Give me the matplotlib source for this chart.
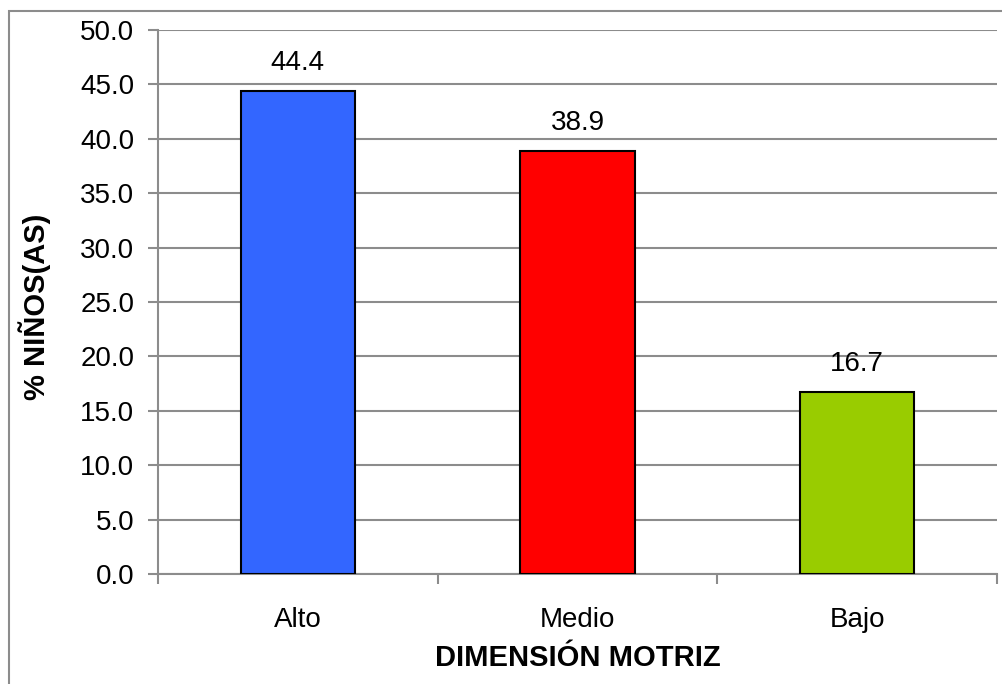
import matplotlib
matplotlib.use("Agg")
import matplotlib.pyplot as plt
from matplotlib.patches import Rectangle

categories = ["Alto", "Medio", "Bajo"]
values = [44.4, 38.9, 16.7]
bar_colors = ["#3366FF", "#FF0000", "#99CC00"]
y_ticks = [0, 5, 10, 15, 20, 25, 30, 35, 40, 45, 50]

plt.rcParams["font.family"] = ["Liberation Sans", "DejaVu Sans"]

fig = plt.figure(figsize=(10.03, 6.84), dpi=100)
ax = fig.add_axes([158 / 1003, 1 - 574 / 684, (997 - 158) / 1003, (574 - 30) / 684])

# outer chart border (only left/top visible in the original)
fig.patches.append(Rectangle((9 / 1003, -0.1), 1.2, 1 - 11 / 684 + 0.1,
                             transform=fig.transFigure, fill=False,
                             edgecolor="#8c8c8c", linewidth=1.5))

x = list(range(len(categories)))
bars = ax.bar(x, values, width=0.41, color=bar_colors, edgecolor="black",
              linewidth=1.5, zorder=3)
for b, v in zip(bars, values):
    ax.text(b.get_x() + b.get_width() / 2, v + 1.4, f"{v:.1f}",
            ha="center", va="bottom", fontsize=20)

ax.set_xlim(-0.5, 2.5)
ax.set_ylim(0, 50)
ax.set_yticks(y_ticks)
ax.set_yticklabels([f"{t:.1f}" for t in y_ticks])
ax.yaxis.grid(True, color="#8c8c8c", linewidth=1.5, zorder=0)

ax.set_xticks(x)
ax.set_xticklabels(categories)
ax.set_xticks([-0.5, 0.5, 1.5, 2.5], minor=True)
ax.tick_params(axis="x", which="major", length=0, pad=24, labelsize=20)
ax.tick_params(axis="x", which="minor", length=7, width=1.5, color="#8c8c8c")
ax.tick_params(axis="y", length=7, width=1.5, color="#8c8c8c", pad=10, labelsize=20)

for s in ["top", "right"]:
    ax.spines[s].set_visible(False)
for s in ["left", "bottom"]:
    ax.spines[s].set_color("#8c8c8c")
    ax.spines[s].set_linewidth(1.5)

ax.set_ylabel("% NIÑOS(AS)", fontsize=21, fontweight="bold")
ax.yaxis.set_label_coords(-0.128, 0.491)
ax.set_xlabel("DIMENSIÓN MOTRIZ", fontsize=21, fontweight="bold")
ax.xaxis.set_label_coords(0.5, -0.129)

fig.savefig("out.png", dpi=100)
